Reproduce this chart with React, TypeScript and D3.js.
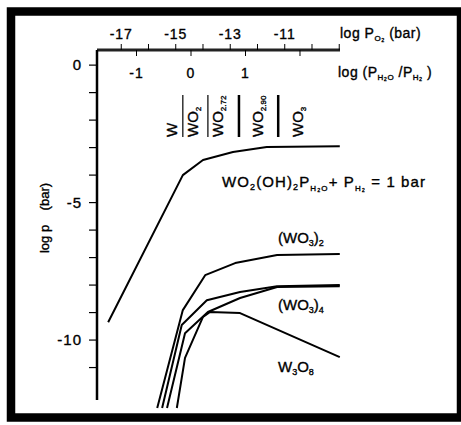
import React from "react";
import * as d3 from "d3";

// x: log(PH2O/PH2), y: log p (bar)
const WO2OH2_X = [-1.52, -0.15, 0.22, 0.77, 1.39, 2.73];
const WO2OH2_Y = [-9.35, -4.0, -3.45, -3.16, -2.98, -2.95];

const WO3_2_X = [-0.62, -0.15, 0.26, 0.81, 1.58, 2.73];
const WO3_2_Y = [-12.47, -8.91, -7.64, -7.2, -6.91, -6.87];

const WO3_3_X = [-0.53, -0.17, 0.29, 0.9, 1.58, 2.73];
const WO3_3_Y = [-12.47, -9.45, -8.55, -8.25, -8.04, -8.0];

const WO3_4_X = [-0.44, -0.11, 0.31, 0.9, 1.58, 2.73];
const WO3_4_Y = [-12.47, -9.75, -8.98, -8.47, -8.07, -8.04];

const W3O8_X = [-0.26, -0.11, 0.22, 0.35, 0.9, 2.73];
const W3O8_Y = [-12.47, -10.65, -9.16, -8.98, -9.02, -10.62];

// phase fields along log(PH2O/PH2)
const PHASE_BOUNDS = [-0.15, 0.31, 0.88, 1.6];
const PHASE_THICK = [false, false, true, true];
const PHASE_LABELS = [
  { base: "W", sub: "", at: -0.35 },
  { base: "WO", sub: "2", at: 0.04 },
  { base: "WO", sub: "2.72", at: 0.5 },
  { base: "WO", sub: "2.90", at: 1.23 },
  { base: "WO", sub: "3", at: 1.96 },
];

const PO2_TICKS = [-17, -16, -15, -14, -13, -12, -11, -10, -9];
const PO2_LABELS = [-17, -15, -13, -11];
const RATIO_TICKS = [-1, 0, 1, 2];
const RATIO_LABELS = [-1, 0, 1];
const Y_TICKS = [0, -1, -2, -3, -4, -5, -6, -7, -8, -9, -10, -11];
const Y_LABELS = [0, -5, -10];

const PO2_OFFSET = -14.44; // log PO2 = 2 * log(PH2O/PH2) + offset

export default function App() {
  const left = 97, right = 340, top = 50, bottom = 400;
  const x = d3.scaleLinear().domain([-1.725, 2.734]).range([left, right]);
  const xO2 = d3.scaleLinear()
    .domain([2 * -1.725 + PO2_OFFSET, 2 * 2.734 + PO2_OFFSET])
    .range([left, right]);
  const y = d3.scaleLinear().domain([0.55, -12.18]).range([top, bottom]);

  const line = d3.line<[number, number]>().x(d => x(d[0])).y(d => y(d[1]));
  const series = [
    [WO2OH2_X, WO2OH2_Y],
    [WO3_2_X, WO3_2_Y],
    [WO3_3_X, WO3_3_Y],
    [WO3_4_X, WO3_4_Y],
    [W3O8_X, W3O8_Y],
  ].map(([xs, ys]) => xs.map((v, i) => [v, ys[i]] as [number, number]));

  const font = "'Liberation Sans', Arial, sans-serif";
  const ink = { stroke: "#000", strokeWidth: 0.35 };

  return (
    <svg width={461} height={425} style={{ position: "absolute", left: 0, top: 0 }}
      fontFamily={font} fontSize={13}>
      <rect x={0} y={0} width={461} height={425} fill="#fff" />
      <rect x={11} y={11.5} width={450} height={406} fill="none" stroke="#000" strokeWidth={8.5} />

      {/* top axis: log PO2 */}
      <line x1={left} x2={right} y1={top} y2={top} stroke="#222" strokeWidth={3} />
      {PO2_TICKS.map(t => (
        <line key={"o" + t} x1={xO2(t)} x2={xO2(t)} y1={top} y2={top - 6} stroke="#000" strokeWidth={1} />
      ))}
      {PO2_LABELS.map(t => (
        <text key={"ol" + t} x={xO2(t)} y={39} textAnchor="middle" fontSize={14} letterSpacing={1} {...ink}>{"-" + Math.abs(t)}</text>
      ))}
      <text x={340} y={38} fontSize={14} letterSpacing={0.5} {...ink}>
        log P<tspan fontSize={8} dy={3}>O₂</tspan><tspan dy={-3}>{"  (bar)"}</tspan>
      </text>

      {RATIO_TICKS.map(t => (
        <line key={"r" + t} x1={x(t)} x2={x(t)} y1={top} y2={top + 6} stroke="#000" strokeWidth={1} />
      ))}
      {RATIO_LABELS.map(t => (
        <text key={"rl" + t} x={x(t)} y={78} textAnchor="middle" fontSize={14} letterSpacing={1} {...ink}>{t < 0 ? "-" + Math.abs(t) : t}</text>
      ))}
      <text x={338} y={77} fontSize={14} letterSpacing={0.5} style={{ whiteSpace: "pre" }} {...ink}>
        log (P<tspan fontSize={8} dy={3}>H₂O</tspan><tspan dy={-3}>{" /P"}</tspan>
        <tspan fontSize={8} dy={3}>H₂</tspan><tspan dy={-3}>{" )"}</tspan>
      </text>

      {/* left axis */}
      <line x1={left} x2={left} y1={top} y2={bottom} stroke="#000" strokeWidth={2.5} />
      {Y_TICKS.map(t => (
        <line key={"y" + t} x1={left - 8} x2={left} y1={y(t)} y2={y(t)} stroke="#000" strokeWidth={1.2} />
      ))}
      {Y_LABELS.map(t => (
        <text key={"yl" + t} x={82} y={y(t) + 5} textAnchor="end" fontSize={15} letterSpacing={1} {...ink}>{t < 0 ? "-" + Math.abs(t) : t}</text>
      ))}
      <text transform="translate(49,218) rotate(-90)" textAnchor="middle" style={{ whiteSpace: "pre" }} {...ink}>
        {"log p    (bar)"}
      </text>

      {/* phase fields */}
      {PHASE_BOUNDS.map((b, i) => (
        <line key={"pb" + i} x1={x(b)} x2={x(b)} y1={95} y2={137} stroke="#000"
          strokeWidth={PHASE_THICK[i] ? 2.5 : 1.2} />
      ))}
      {PHASE_LABELS.map((p, i) => (
        <text key={"pl" + i} transform={`translate(${x(p.at) + 5},137) rotate(-90)`} fontSize={15} {...ink}>
          {p.base}
          {p.sub && <tspan fontSize={8} dy={3}>{p.sub}</tspan>}
        </text>
      ))}

      {/* curves */}
      {series.map((s, i) => (
        <path key={"s" + i} d={line(s) || ""} fill="none" stroke="#000" strokeWidth={2} strokeLinejoin="round" />
      ))}

      <text x={222} y={187} fontSize={15} letterSpacing={1.1} style={{ whiteSpace: "pre" }} {...ink}>
        WO<tspan fontSize={9} dy={3}>2</tspan><tspan dy={-3}>(OH)</tspan>
        <tspan fontSize={9} dy={3}>2</tspan><tspan dy={-3}>P</tspan>
        <tspan fontSize={8} dy={4}>H₂O</tspan><tspan dy={-4}>{"+ P"}</tspan>
        <tspan fontSize={8} dy={4}>H₂</tspan><tspan dy={-4}>{" = 1 bar"}</tspan>
      </text>
      <text x={278} y={243} fontSize={15} {...ink}>
        (WO<tspan fontSize={9} dy={3}>3</tspan><tspan dy={-3}>)</tspan>
        <tspan fontSize={9} dy={3}>2</tspan>
      </text>
      <text x={278} y={310} fontSize={15} {...ink}>
        (WO<tspan fontSize={9} dy={3}>3</tspan><tspan dy={-3}>)</tspan>
        <tspan fontSize={9} dy={3}>4</tspan>
      </text>
      <text x={278} y={372} fontSize={15} {...ink}>
        W<tspan fontSize={9} dy={3}>3</tspan><tspan dy={-3}>O</tspan>
        <tspan fontSize={9} dy={3}>8</tspan>
      </text>
    </svg>
  );
}
